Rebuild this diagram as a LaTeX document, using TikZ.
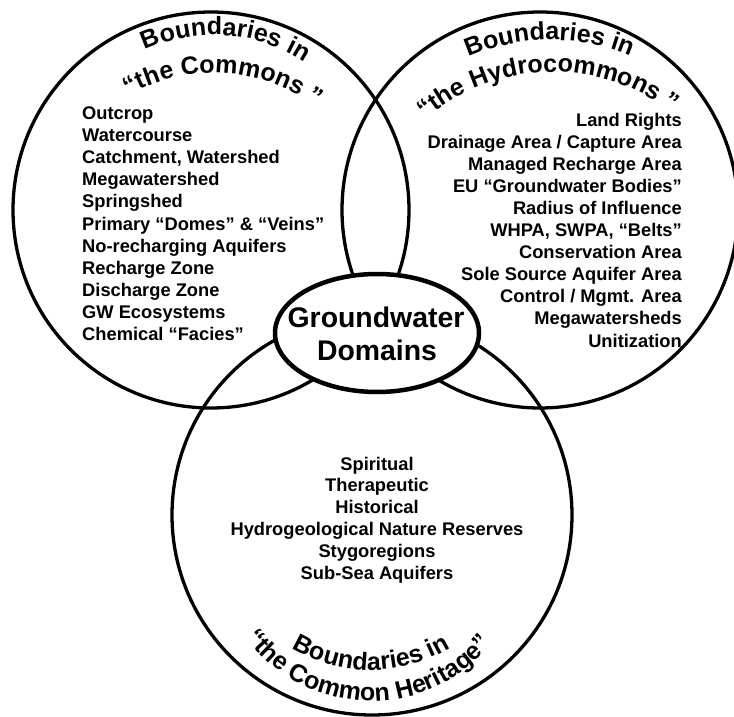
\documentclass[tikz,border=0pt]{standalone}
\usepackage{fontspec}
\setmainfont{Liberation Sans}
\usetikzlibrary{decorations.text,shapes.geometric}
\newcommand\ttlfont{\fontsize{25}{25}\selectfont\bfseries}
\begin{document}
\begin{tikzpicture}[x=1pt,y=1pt,
  ring/.style={circle, draw=black, line width=3.3pt, inner sep=0pt},
  item/.style={font=\fontsize{18.3}{22}\selectfont\bfseries, inner sep=0pt},
  big/.style={font=\fontsize{28.4}{33}\selectfont\bfseries, inner sep=0pt},
  ttl/.style={decorate, decoration={text along path, text align=center, text={|\ttlfont|#1}}}]
\useasboundingbox (0,0) rectangle (734,-717);
\fill[white] (0,0) rectangle (734,-717);

% circles
\node[ring, minimum size=396pt] (cL) at (211,-210) {};
\node[ring, minimum size=396pt] (cR) at (540,-210) {};
\node[ring, minimum size=400pt] (cB) at (372,-515) {};

% centre ellipse
\node[ellipse, draw=black, line width=4.5pt, fill=white, minimum width=204pt, minimum height=118pt, inner sep=0pt] (gd) at (377,-333) {};
\node[big, anchor=base] (gd1) at (376,-327) {Groundwater};
\node[big, anchor=base] (gd2) at (377,-360) {Domains};

% curved titles (centred on measured middle angles)
\path[ttl={Boundaries in}] (214,-200) ++(145.75:165) arc[start angle=145.75, end angle=25.75, radius=165];
\path[ttl={“the Commons ”}] (214,-246) ++(146.7:173) arc[start angle=146.7, end angle=26.7, radius=173];
\path[ttl={Boundaries in}] (550,-245) ++(150.15:205) arc[start angle=150.15, end angle=30.15, radius=205];
\path[ttl={“the Hydrocommons ”}] (553,-269) ++(151.6:197) arc[start angle=151.6, end angle=31.6, radius=197];
\path[ttl={Boundaries in}] (371,-516) ++(210.15:154) arc[start angle=210.15, end angle=330.15, radius=154];
\path[ttl={“the Common Heritage”}] (371,-546) ++(198.7:155) arc[start angle=198.7, end angle=338.7, radius=155];

% lists
\foreach \t [count=\i] in {Outcrop, Watercourse, {Catchment, Watershed}, Megawatershed, Springshed, {Primary “Domes” \& “Veins”}, No-recharging Aquifers, Recharge Zone, Discharge Zone, GW Ecosystems, {Chemical “Facies”}}
  \node[item, anchor=base west] (L\i) at (82, {-119.5-22.1*(\i-1)}) {\t};

\foreach \t [count=\i] in {Land Rights, Drainage Area / Capture Area, Managed Recharge Area, EU “Groundwater Bodies”, Radius of Influence, {WHPA, SWPA, “Belts”}, Conservation Area, Sole Source Aquifer Area, Control / Mgmt. Area, Megawatersheds, Unitization}
  \node[item, anchor=base east] (R\i) at (682, {-126-22.1*(\i-1)}) {\t};

\foreach \t [count=\i] in {Spiritual, Therapeutic, Historical, Hydrogeological Nature Reserves, Stygoregions, Sub-Sea Aquifers}
  \node[item, anchor=base] (B\i) at (377, {-470-21.8*(\i-1)}) {\t};
\end{tikzpicture}
\end{document}
